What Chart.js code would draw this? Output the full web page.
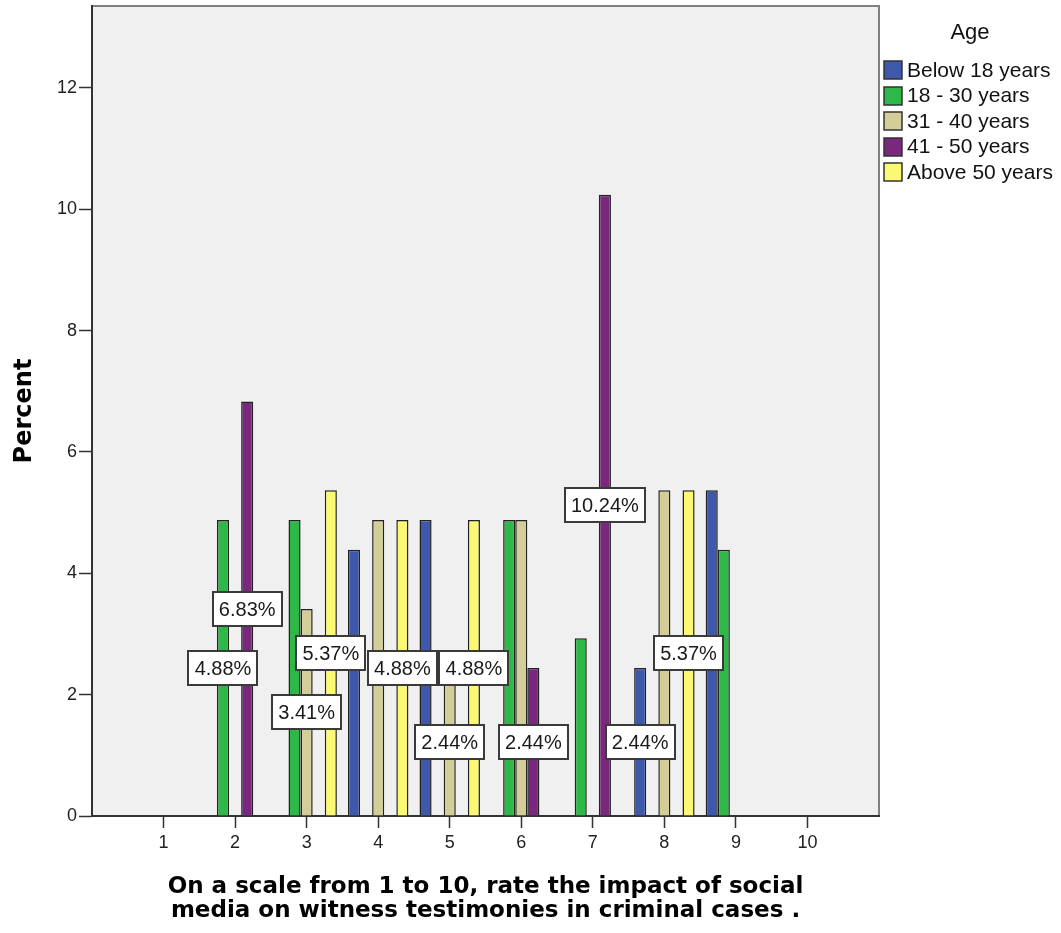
<!DOCTYPE html>
<html>
<head>
<meta charset="utf-8">
<title>Impact of social media on witness testimonies</title>
<script src="https://cdn.jsdelivr.net/npm/chart.js@4.4.1/dist/chart.umd.min.js"></script>
<style>
  html, body { margin: 0; padding: 0; background: #fff; }
  #chart-box { width: 1061px; height: 933px; }
</style>
</head>
<body>
<div id="chart-box"><canvas id="rating-chart" width="1061" height="933"></canvas></div>
<script>
// rating scale on the x axis
const ratings = ['1', '2', '3', '4', '5', '6', '7', '8', '9', '10'];
const ageGroups = ['Below 18 years', '18 - 30 years', '31 - 40 years', '41 - 50 years', 'Above 50 years'];

// percent of respondents, one value per rating (null = no bar)
const below18   = [null, null, null, 4.39, 4.88, null, null, 2.44, 5.37, null];
const age18to30 = [null, 4.88, 4.88, null, null, 4.88, 2.93, null, 4.39, null];
const age31to40 = [null, null, 3.41, 4.88, 2.44, 4.88, null, 5.37, null, null];
const age41to50 = [null, 6.83, null, null, null, 2.44, 10.24, null, null, null];
const above50   = [null, null, 5.37, 4.88, 4.88, null, null, 5.37, null, null];

const yTicks = [0, 2, 4, 6, 8, 10, 12];

// bars that carry a value label in the original
const labelledBars = [
    ['18 - 30 years', '2'], ['41 - 50 years', '2'],
    ['31 - 40 years', '3'], ['Above 50 years', '3'],
    ['Above 50 years', '4'],
    ['31 - 40 years', '5'], ['Above 50 years', '5'],
    ['41 - 50 years', '6'],
    ['41 - 50 years', '7'],
    ['Below 18 years', '8'], ['Above 50 years', '8']
];

const groupColors = ['#3e58ac', '#2eb848', '#d3ce97', '#79287d', '#fbf873'];
const seriesValues = [below18, age18to30, age31to40, age41to50, above50];

// one empty slot on each side so the ticks land a full step from the frame
const xLabels = ['', ...ratings, ''];
const padded = arr => [null, ...arr, null];

const sansFont = '"Liberation Sans", Arial, sans-serif';
Chart.defaults.font.family = sansFont;

const plotFrame = {
    id: 'plotFrame',
    beforeDraw(chart) {
        const {ctx, chartArea: a} = chart;
        ctx.save();
        ctx.fillStyle = '#f0f0f0';
        ctx.fillRect(a.left, a.top, a.right - a.left, a.bottom - a.top);
        ctx.strokeStyle = '#808080';
        ctx.lineWidth = 2;
        ctx.strokeRect(a.left, a.top, a.right - a.left, a.bottom - a.top);
        ctx.restore();
    }
};

const valueLabels = {
    id: 'valueLabels',
    afterDatasetsDraw(chart) {
        const ctx = chart.ctx;
        ctx.save();
        ctx.font = '20px ' + sansFont;
        ctx.textAlign = 'center';
        ctx.textBaseline = 'middle';
        labelledBars.forEach(([group, rating]) => {
            const di = ageGroups.indexOf(group);
            const ci = xLabels.indexOf(rating);
            const bar = chart.getDatasetMeta(di).data[ci];
            const value = chart.data.datasets[di].data[ci];
            const text = value.toFixed(2) + '%';
            const w = Math.round(ctx.measureText(text).width + 12);
            const h = 34;
            const x = Math.round(bar.x - w / 2);
            const y = Math.round((bar.y + bar.base) / 2 - h / 2);
            ctx.fillStyle = '#fff';
            ctx.fillRect(x, y, w, h);
            ctx.strokeStyle = '#3a3a3a';
            ctx.lineWidth = 2;
            ctx.strokeRect(x, y, w, h);
            ctx.fillStyle = '#1a1a1a';
            ctx.fillText(text, bar.x, y + h / 2 + 1);
        });
        ctx.restore();
    }
};

const sideLegend = {
    id: 'sideLegend',
    afterDraw(chart) {
        const ctx = chart.ctx;
        ctx.save();
        ctx.fillStyle = '#111';
        ctx.textBaseline = 'middle';
        ctx.textAlign = 'center';
        ctx.font = '22px ' + sansFont;
        ctx.fillText('Age', 970, 33);
        ctx.textAlign = 'left';
        ctx.font = '21px ' + sansFont;
        chart.data.datasets.forEach((ds, i) => {
            const cy = 70 + i * 25.5;
            ctx.fillStyle = ds.backgroundColor;
            ctx.fillRect(884, Math.round(cy - 9), 18, 18);
            ctx.strokeStyle = '#333';
            ctx.lineWidth = 1.5;
            ctx.strokeRect(884, Math.round(cy - 9), 18, 18);
            ctx.fillStyle = '#111';
            ctx.fillText(ds.label, 907, cy + 1);
        });
        ctx.restore();
    }
};

const isPad = ctx => ctx.index === 0 || ctx.index === xLabels.length - 1;

new Chart(document.getElementById('rating-chart'), {
    type: 'bar',
    data: {
        labels: xLabels,
        datasets: ageGroups.map((group, i) => ({
            label: group,
            data: padded(seriesValues[i]),
            backgroundColor: groupColors[i],
            borderColor: '#222',
            borderWidth: 1.5,
            categoryPercentage: 0.845,
            barPercentage: 1
        }))
    },
    options: {
        responsive: false,
        animation: false,
        devicePixelRatio: 1,
        layout: {padding: {left: 0, right: 182, top: 6, bottom: 0}},
        plugins: {
            legend: {display: false},
            tooltip: {enabled: false}
        },
        scales: {
            x: {
                type: 'category',
                offset: false,
                afterFit: scale => {
                    scale.height = 117;
                    scale.paddingLeft = 0;
                    scale.paddingRight = 0;
                },
                grid: {
                    offset: false,
                    drawOnChartArea: false,
                    drawTicks: true,
                    tickLength: 12,
                    tickWidth: 1.5,
                    color: ctx => isPad(ctx) ? 'rgba(0,0,0,0)' : '#333'
                },
                border: {display: true, color: '#333', width: 2},
                ticks: {
                    autoSkip: false,
                    maxRotation: 0,
                    padding: 4,
                    color: '#222',
                    font: {size: 18}
                },
                title: {
                    display: true,
                    text: ['On a scale from 1 to 10, rate the impact of social',
                           'media on witness testimonies in criminal cases .'],
                    color: '#000',
                    font: {family: '"DejaVu Sans", Verdana, sans-serif', weight: 'bold', size: 23, lineHeight: '24px'},
                    padding: {top: 0, bottom: 10}
                }
            },
            y: {
                min: 0,
                max: 13.35,
                afterFit: scale => {
                    scale.width = 92;
                    scale.paddingTop = 0;
                    scale.paddingBottom = 0;
                },
                afterBuildTicks: scale => { scale.ticks = yTicks.map(v => ({value: v})); },
                grid: {
                    drawOnChartArea: false,
                    drawTicks: true,
                    tickLength: 13,
                    tickWidth: 1.5,
                    color: '#333'
                },
                border: {display: true, color: '#333', width: 2},
                ticks: {
                    includeBounds: false,
                    padding: 2,
                    color: '#222',
                    font: {size: 18}
                },
                title: {
                    display: true,
                    text: 'Percent',
                    color: '#000',
                    font: {family: '"DejaVu Sans", Verdana, sans-serif', weight: 'bold', size: 24},
                    padding: {top: 10, bottom: 0}
                }
            }
        }
    },
    plugins: [plotFrame, valueLabels, sideLegend]
});
</script>
</body>
</html>
